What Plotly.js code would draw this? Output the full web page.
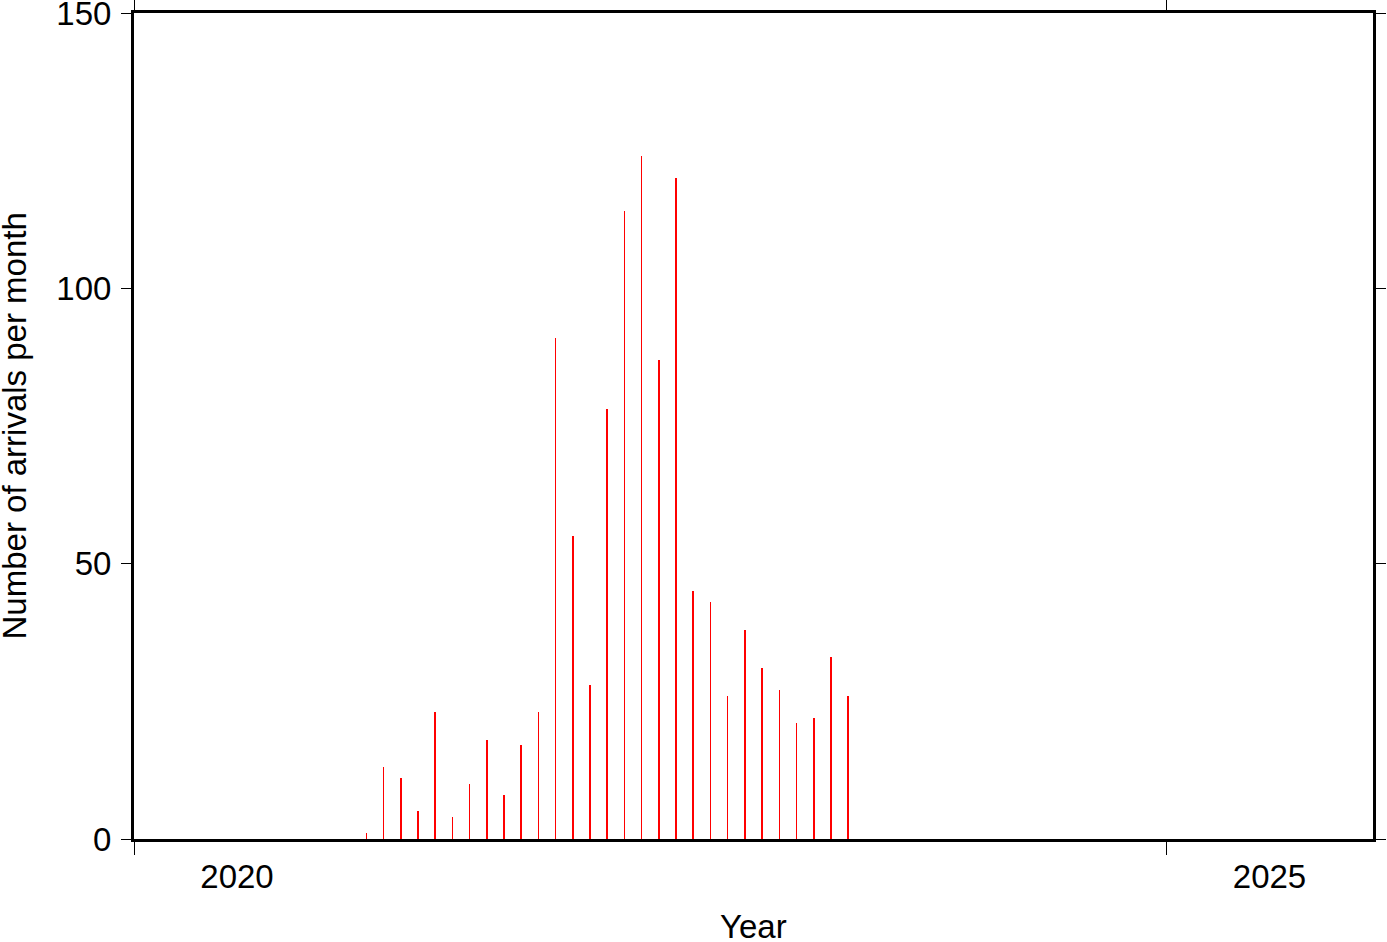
<!DOCTYPE html>
<html>
<head>
<meta charset="utf-8">
<script src="https://cdn.plot.ly/plotly-3.0.1.min.js"></script>
<style>html,body{margin:0;padding:0;background:#fff}#chart{width:1387px;height:942px}</style>
</head>
<body>
<div id="chart"></div>
<script>
// Months (YYYY-MM) and arrivals per month
var months = ["2021-02","2021-03","2021-04","2021-05","2021-06","2021-07","2021-08","2021-09","2021-10","2021-11","2021-12",
              "2022-01","2022-02","2022-03","2022-04","2022-05","2022-06","2022-07","2022-08","2022-09","2022-10","2022-11","2022-12",
              "2023-01","2023-02","2023-03","2023-04","2023-05","2023-06"];
var arrivals = [1,13,11,5,23,4,10,18,8,17,23,
                91,55,28,78,114,124,87,120,45,43,26,38,
                31,27,21,22,33,26];
var yearTicks = [2020, 2025];
var yearLabels = ["2020", "2025"];
var yTicks = [0, 50, 100, 150];
var xTitle = "Year";
var yTitle = "Number of arrivals per month";

// convert months to decimal year at mid-month
var xs = months.map(function(m){
  var p = m.split("-");
  return parseInt(p[0],10) + (parseInt(p[1],10) - 0.5) / 12;
});

var font = {family: "Liberation Sans, Arial, Helvetica, sans-serif", size: 33, color: "#000"};

var trace = {
  type: "bar",
  x: xs,
  y: arrivals,
  width: 0.0078,
  marker: {color: "#ff0000", line: {width: 0}},
  hoverinfo: "x+y"
};

var layout = {
  width: 1387, height: 942,
  margin: {l: 134, r: 14, t: 13, b: 103},
  paper_bgcolor: "#fff", plot_bgcolor: "#fff",
  showlegend: false,
  font: font,
  bargap: 0,
  xaxis: {
    range: [2020, 2026],
    tickmode: "array", tickvals: yearTicks, ticktext: yearLabels,
    ticklabelshift: 103,
    ticklabelstandoff: -7,
    ticklabeloverflow: "allow",
    ticks: "outside", ticklen: 13, tickwidth: 1, tickcolor: "#000",
    showline: true, linewidth: 3, linecolor: "#000", mirror: "ticks",
    showgrid: false, zeroline: false,
    tickfont: font
  },
  yaxis: {
    range: [0, 150],
    tickmode: "array", tickvals: yTicks,
    ticklabelstandoff: 3,
    ticklabeloverflow: "allow",
    ticks: "outside", ticklen: 10, tickwidth: 1, tickcolor: "#000",
    showline: true, linewidth: 3, linecolor: "#000", mirror: "ticks",
    showgrid: false, zeroline: false,
    tickfont: font
  },
  annotations: [
    {text: xTitle, xref: "paper", yref: "paper", x: 0.5, y: 0, xanchor: "center", yanchor: "top",
     yshift: -67, showarrow: false, font: font},
    {text: yTitle, xref: "paper", yref: "paper", x: 0, y: 0.5, xanchor: "left", yanchor: "middle",
     xshift: -141, textangle: -90, showarrow: false, font: font}
  ]
};

Plotly.newPlot("chart", [trace], layout, {displayModeBar: false, staticPlot: true});
</script>
</body>
</html>
